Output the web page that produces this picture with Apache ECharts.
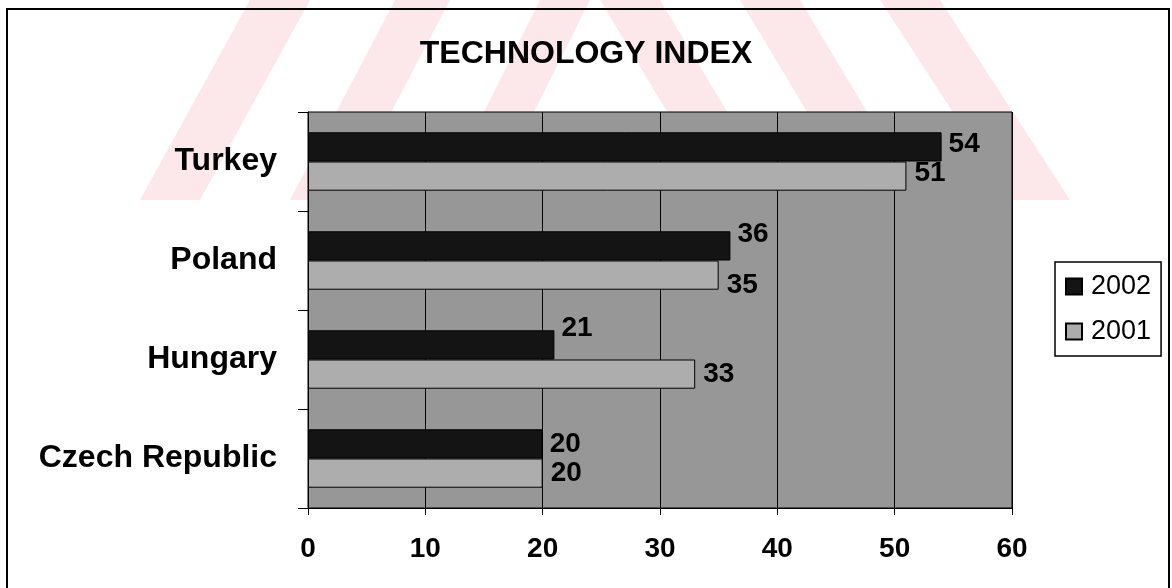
<!DOCTYPE html>
<html>
<head>
<meta charset="utf-8">
<title>Technology Index</title>
<script src="https://cdn.jsdelivr.net/npm/echarts@6/dist/echarts.min.js"></script>
<style>
  html, body { margin: 0; padding: 0; background: #ffffff; }
  #chart { width: 1172px; height: 588px; }
</style>
</head>
<body>
<div id="chart"></div>
<script>
// Technology index by country, 2002 vs 2001
const countries = ['Turkey', 'Poland', 'Hungary', 'Czech Republic'];
const values2002 = [54, 36, 21, 20];
const values2001 = [51, 35, 33, 20];
const seriesNames = ['2002', '2001'];
const xTicks = { min: 0, max: 60, step: 10 };

// vertical nudges for value labels so they sit clear of neighbouring bars
const nudge2002 = [-3, -12, -17, 0];
const nudge2001 = [-3, 10, 0, 0];

const FONT = '"Liberation Sans", Arial, Helvetica, sans-serif';

function withLabels(values, nudges) {
  return values.map((v, i) => ({
    value: v,
    label: { offset: [0, nudges[i]] }
  }));
}

// faint stripes of the background stamp
const stamp = '#fce7ea';
const stripes = [
  [[140, 200], [200, 200], [310, 0], [250, 0]],
  [[290, 200], [345, 200], [450, 0], [395, 0]],
  [[440, 200], [490, 200], [590, 0], [540, 0]],
  [[600, 0], [660, 0], [780, 200], [720, 200]],
  [[740, 0], [800, 0], [920, 200], [860, 200]],
  [[880, 0], [940, 0], [1070, 200], [1010, 200]]
];

const chart = echarts.init(document.getElementById('chart'), null, { renderer: 'canvas' });

chart.setOption({
  backgroundColor: '#ffffff',
  animation: false,
  graphic: [
    ...stripes.map(pts => ({
      type: 'polygon',
      z: -10,
      silent: true,
      shape: { points: pts },
      style: { fill: stamp }
    })),
    {
      type: 'rect',
      z: 100,
      silent: true,
      shape: { x: 7, y: 9, width: 1162, height: 600 },
      style: { fill: 'none', stroke: '#000000', lineWidth: 2 }
    }
  ],
  title: {
    text: 'TECHNOLOGY INDEX',
    left: 'center',
    top: 33,
    textStyle: { fontFamily: FONT, fontWeight: 'bold', fontSize: 32, color: '#000000' }
  },
  legend: {
    data: seriesNames,
    orient: 'vertical',
    left: 1055,
    top: 262,
    padding: [11, 10, 11, 10],
    itemGap: 18,
    itemWidth: 16,
    itemHeight: 16,
    icon: 'rect',
    borderColor: '#000000',
    borderWidth: 1.5,
    backgroundColor: '#ffffff',
    textStyle: { fontFamily: FONT, fontSize: 27, color: '#000000', padding: [0, 0, 0, 4] }
  },
  grid: {
    left: 308,
    right: 160,
    top: 112,
    bottom: 80,
    show: true,
    backgroundColor: '#979797',
    borderColor: '#000000',
    borderWidth: 1
  },
  xAxis: {
    type: 'value',
    min: xTicks.min,
    max: xTicks.max,
    interval: xTicks.step,
    axisLine: { show: true, lineStyle: { color: '#000000', width: 1 } },
    axisTick: { show: true, length: 7, lineStyle: { color: '#000000' } },
    splitLine: { show: true, lineStyle: { color: '#000000', width: 1 } },
    axisLabel: { margin: 27, fontFamily: FONT, fontWeight: 'bold', fontSize: 28, color: '#000000' }
  },
  yAxis: {
    type: 'category',
    inverse: true,
    data: countries,
    axisLine: { show: true, lineStyle: { color: '#000000', width: 1 } },
    axisTick: { show: true, length: 10, alignWithLabel: false, lineStyle: { color: '#000000' } },
    axisLabel: { margin: 31, fontFamily: FONT, fontWeight: 'bold', fontSize: 32, color: '#000000' }
  },
  series: [
    {
      name: seriesNames[0],
      type: 'bar',
      data: withLabels(values2002, nudge2002),
      barGap: '0%',
      barCategoryGap: '41%',
      itemStyle: { color: '#141414', borderColor: '#000000', borderWidth: 1 },
      label: {
        show: true,
        position: 'right',
        distance: 7,
        fontFamily: FONT,
        fontWeight: 'bold',
        fontSize: 28,
        color: '#000000'
      }
    },
    {
      name: seriesNames[1],
      type: 'bar',
      data: withLabels(values2001, nudge2001),
      barGap: '0%',
      barCategoryGap: '41%',
      itemStyle: { color: '#adadad', borderColor: '#000000', borderWidth: 1 },
      label: {
        show: true,
        position: 'right',
        distance: 8,
        fontFamily: FONT,
        fontWeight: 'bold',
        fontSize: 28,
        color: '#000000'
      }
    }
  ]
});
</script>
</body>
</html>
